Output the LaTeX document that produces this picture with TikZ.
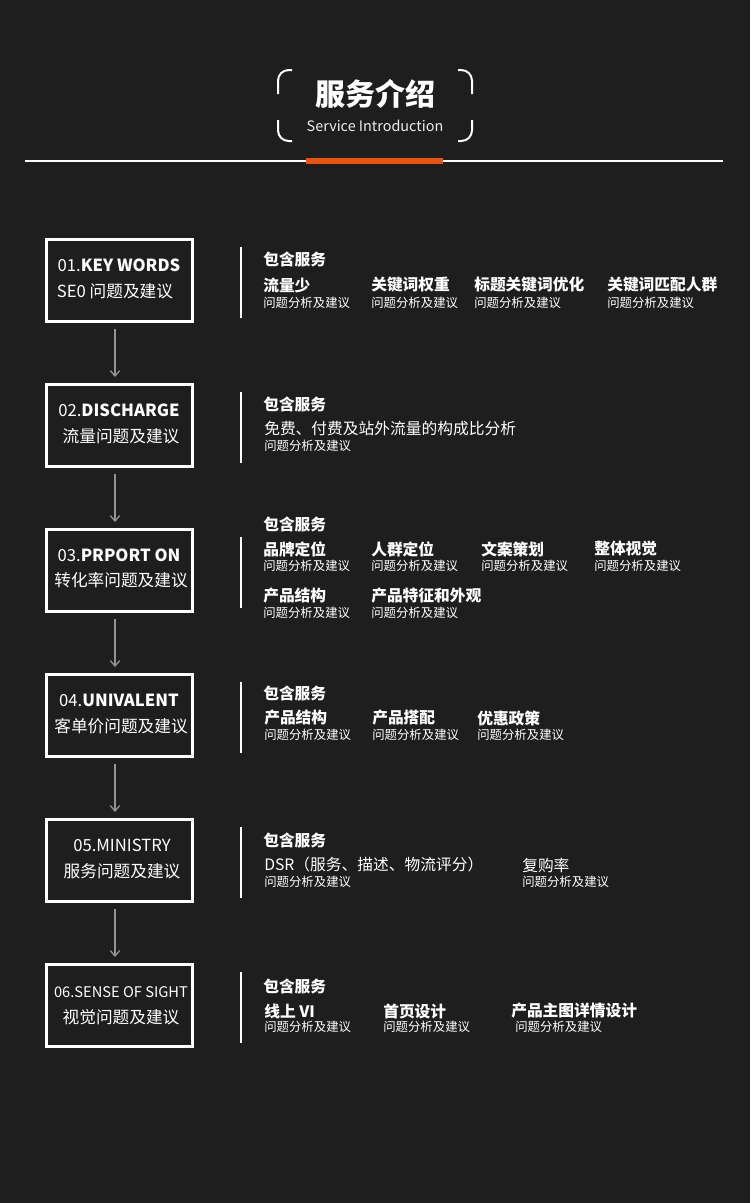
\documentclass[tikz,border=0pt]{standalone}
\usepackage{fontspec}
\setmainfont{Noto Sans CJK SC}
\usetikzlibrary{arrows.meta}
\definecolor{bg}{HTML}{1E1E1E}
\definecolor{org}{HTML}{E8530E}
\begin{document}
\begin{tikzpicture}[x=0.75pt,y=-0.75pt,
  box/.style={draw=white,line width=2.2pt,minimum width=146*0.75pt,minimum height=82*0.75pt,inner sep=0,anchor=north west},
  t/.style={text=white,inner sep=0,anchor=west},
  hd/.style={t,font=\bfseries\fontsize{11.8}{12}\selectfont},
  it/.style={t,font=\bfseries\fontsize{11.8}{12}\selectfont},
  sb/.style={t,font=\fontsize{9.3}{10}\selectfont},
  bx/.style={text=white,inner sep=0,font=\fontsize{12.5}{13}\selectfont},
  arr/.style={draw=gray!85,line width=1pt,-{Straight Barb[length=4pt,width=7pt]}},
  bar/.style={draw=white,line width=1.8pt},
  brk/.style={draw=white,line width=1.5pt,rounded corners=8pt}]
\fill[bg] (0,0) rectangle (750,1203);
\useasboundingbox (0,0) rectangle (750,1203);
% header
\draw[brk] (292,70) -- (278,70) -- (278,94);
\draw[brk] (278,120) -- (278,141) -- (292,141);
\draw[brk] (458,70) -- (472,70) -- (472,94);
\draw[brk] (472,120) -- (472,141) -- (458,141);
\node[text=white,font=\bfseries\fontsize{22.5}{23}\selectfont] (title) at (375,94) {服务介绍};
\node[text=white!85!gray,font=\fontsize{10.8}{11}\selectfont] (sub) at (375,126) {Service Introduction};
\draw[white,line width=1.4pt] (25,161) -- (723,161);
\fill[org] (306,158) rectangle (443,164);
% boxes
\node[box] (b1) at (45,238) {};
\node[box] (b2) at (45,383) {};
\node[box] (b3) at (45,528) {};
\node[box] (b4) at (45,673) {};
\node[box] (b5) at (45,818) {};
\node[box] (b6) at (45,963) {};
\node[bx] (b1a) at (119,265) {01.\textbf{KEY WORDS}};
\node[bx] (b1b) at (115,291) {SE0 问题及建议};
\node[bx] (b2a) at (119,410) {02.\textbf{DISCHARGE}};
\node[bx] (b2b) at (121,436) {流量问题及建议};
\node[bx] (b3a) at (119,555) {03.\textbf{PRPORT ON}};
\node[bx] (b3b) at (121,580) {转化率问题及建议};
\node[bx] (b4a) at (119,700) {04.\textbf{UNIVALENT}};
\node[bx] (b4b) at (121,726) {客单价问题及建议};
\node[bx] (b5a) at (122,845) {05.MINISTRY};
\node[bx] (b5b) at (122,871) {服务问题及建议};
\node[bx,font=\fontsize{11}{12}\selectfont] (b6a) at (121,992) {06.SENSE OF SIGHT};
\node[bx] (b6b) at (121,1017) {视觉问题及建议};
\foreach \a/\b in {b1/b2,b2/b3,b3/b4,b4/b5,b5/b6}
  \draw[arr] ([yshift=-6*0.75pt]\a.south -| 115,0) -- ([yshift=6*0.75pt]\b.north -| 115,0);
% bars
\foreach \y in {247,392,537,682,827,972}
  \draw[bar] (241,\y) -- (241,\y+71);
% row 1
\node[hd] (h1) at (263,259) {包含服务};
\foreach \x/\s [count=\i] in {263/流量少,371/关键词权重,474/标题关键词优化,607/关键词匹配人群}{
  \node[it] (r1i\i) at (\x,285) {\s}; \node[sb] (r1s\i) at (\x,303) {问题分析及建议};}
% row 2
\node[hd] (h2) at (263,404) {包含服务};
\node[it,font=\fontsize{11.8}{12}\selectfont] (r2i1) at (264,429) {免费、付费及站外流量的构成比分析};
\node[sb] (r2s1) at (264,446) {问题分析及建议};
% row 3
\node[hd] (h3) at (263,524) {包含服务};
\foreach \x/\s [count=\i] in {263/品牌定位,371/人群定位,481/文案策划,594/整体视觉}{
  \node[it] (r3i\i) at (\x,549) {\s}; \node[sb] (r3s\i) at (\x,566) {问题分析及建议};}
\foreach \x/\s [count=\i] in {263/产品结构,371/产品特征和外观}{
  \node[it] (r3j\i) at (\x,596) {\s}; \node[sb] (r3t\i) at (\x,613) {问题分析及建议};}
% row 4
\node[hd] (h4) at (263,693) {包含服务};
\foreach \x/\s [count=\i] in {264/产品结构,372/产品搭配,477/优惠政策}{
  \node[it] (r4i\i) at (\x,718) {\s}; \node[sb] (r4s\i) at (\x,735) {问题分析及建议};}
% row 5
\node[hd] (h5) at (263,840) {包含服务};
\node[it,font=\fontsize{11.8}{12}\selectfont] (r5i1) at (264,865) {DSR（服务、描述、物流评分）};
\node[sb] (r5s1) at (264,882) {问题分析及建议};
\node[it,font=\fontsize{11.8}{12}\selectfont] (r5i2) at (522,865) {复购率};
\node[sb] (r5s2) at (522,882) {问题分析及建议};
% row 6
\node[hd] (h6) at (263,986) {包含服务};
\node[it] (r6i1) at (264,1011) {线上 VI};
\node[sb] (r6s1) at (264,1027) {问题分析及建议};
\node[it] (r6i2) at (383,1011) {首页设计};
\node[sb] (r6s2) at (383,1027) {问题分析及建议};
\node[it] (r6i3) at (511,1011) {产品主图详情设计};
\node[sb] (r6s3) at (515,1027) {问题分析及建议};
\end{tikzpicture}
\end{document}
